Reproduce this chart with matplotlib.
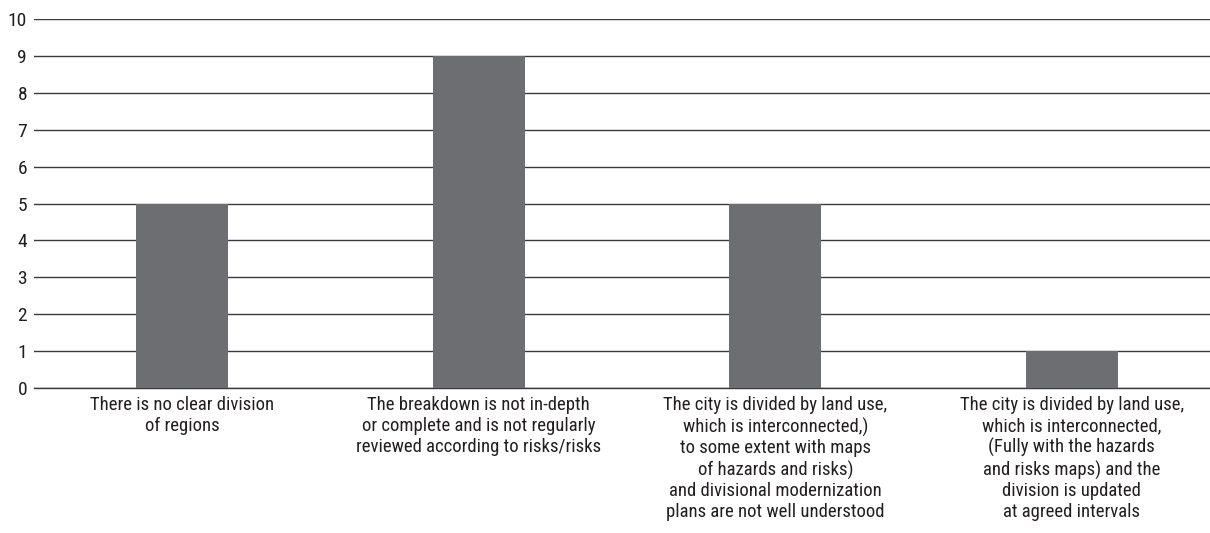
import matplotlib
matplotlib.use("Agg")
import matplotlib.pyplot as plt

plt.rcParams['font.family'] = ['Roboto Condensed', 'DejaVu Sans']

categories = [
    "There is no clear division\nof regions",
    "The breakdown is not in-depth\nor complete and is not regularly\nreviewed according to risks/risks",
    "The city is divided by land use,\nwhich is interconnected,)\nto some extent with maps\nof hazards and risks)\nand divisional modernization\nplans are not well understood",
    "The city is divided by land use,\nwhich is interconnected,\n(Fully with the hazards\nand risks maps) and the\ndivision is updated\nat agreed intervals",
]
values = [5, 9, 5, 1]

fig = plt.figure(figsize=(12.1, 5.33), dpi=100)
ax = fig.add_axes([0.0281, 0.272, 0.9719, 0.692])

x = list(range(len(values)))
ax.bar(x, values, width=0.31, color='#6d6e71', zorder=3)

ax.set_xlim(-0.5, 3.466)
ax.set_ylim(0, 10)
ax.set_yticks(range(0, 11))
ax.yaxis.grid(True, color='#3a3a3a', linewidth=1.0, zorder=0)
ax.set_xticks(x)
ax.set_xticklabels(categories, fontsize=13.5, linespacing=1.2, color='#231f20')
ax.tick_params(axis='x', length=0, pad=6)
ax.tick_params(axis='y', length=0, pad=5, labelsize=14, labelcolor='#231f20')
for s in ['top', 'right', 'left']:
    ax.spines[s].set_visible(False)
ax.spines['bottom'].set_color('#3a3a3a')
ax.spines['bottom'].set_linewidth(1.0)

fig.savefig("out.png", dpi=100)
